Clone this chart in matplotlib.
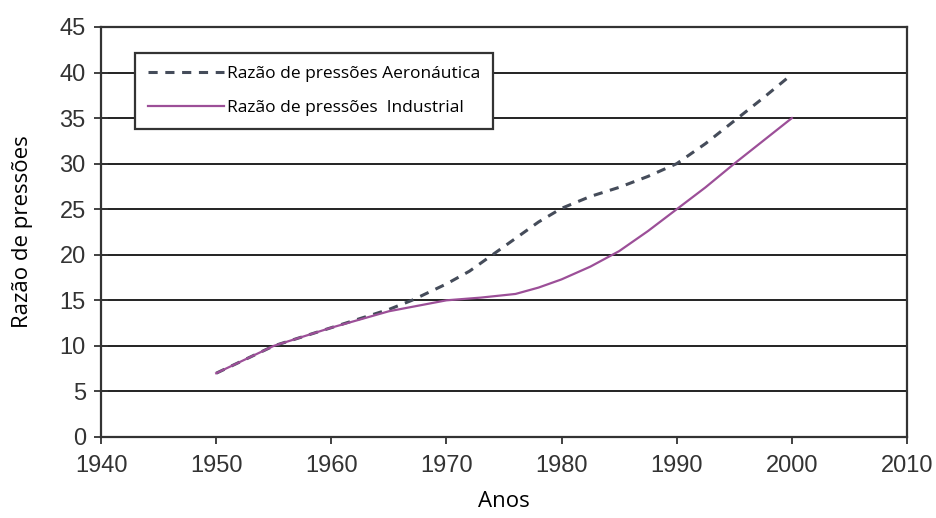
import numpy as np
import matplotlib.pyplot as plt

# values
anos = [1950, 1955, 1960, 1965, 1967, 1970, 1972, 1974, 1976, 1978, 1980,
        1982.5, 1985, 1987.5, 1990, 1992.5, 1995, 1997.5, 2000]
aeronautica = [7.0, 10.0, 12.0, 14.0, 15.0, 16.8, 18.2, 20.0, 21.8, 23.6, 25.1,
               26.4, 27.4, 28.6, 30.0, 32.2, 34.7, 37.2, 39.8]

anos_ind = [1950, 1955, 1960, 1965, 1970, 1973, 1976, 1978, 1980, 1982.5,
            1985, 1987.5, 1990, 1992.5, 1995, 1997.5, 2000]
industrial = [7.0, 10.0, 12.0, 13.8, 15.0, 15.3, 15.7, 16.4, 17.3, 18.7,
              20.4, 22.6, 25.0, 27.4, 30.0, 32.5, 35.0]

xticks = [1940, 1950, 1960, 1970, 1980, 1990, 2000, 2010]
yticks = [0, 5, 10, 15, 20, 25, 30, 35, 40, 45]

fig = plt.figure(figsize=(9.36, 5.18), dpi=100)
ax = fig.add_axes([0.108, 0.1564, 0.861, 0.7915])

for y in yticks[1:]:
    ax.axhline(y, color='#222222', lw=1.4, zorder=1)

ax.plot(anos, aeronautica, ls=(0, (3, 2.5)), color='#454c5a', lw=2.2,
        label='Razão de pressões Aeronáutica', zorder=3)
ax.plot(anos_ind, industrial, color='#9c4f98', lw=1.6,
        label='Razão de pressões  Industrial', zorder=3)

ax.set_xlim(1940, 2010)
ax.set_ylim(0, 45)
ax.set_xticks(xticks)
ax.set_yticks(yticks)
for s in ax.spines.values():
    s.set_color('#333333')
    s.set_linewidth(1.6)

ax.tick_params(axis='both', width=1.3, color='#333333',
               labelsize=17, labelcolor='#333333')
ax.tick_params(axis='y', direction='inout', length=10, pad=6)
ax.tick_params(axis='x', direction='out', length=5, pad=8)
for lab in ax.get_xticklabels() + ax.get_yticklabels():
    lab.set_family('Liberation Sans')

ax.set_xlabel('Anos', fontsize=16, family='Open Sans', labelpad=10)
ax.set_ylabel('Razão de pressões', fontsize=16, family='Open Sans', labelpad=19)

leg = ax.legend(loc='upper left', bbox_to_anchor=(0.042, 0.937), fancybox=False,
                framealpha=1, edgecolor='#333333', handlelength=4.4,
                handletextpad=0.15, borderpad=0.75, labelspacing=1.05,
                borderaxespad=0,
                prop={'family': 'Open Sans', 'size': 12.5})
leg.get_frame().set_linewidth(1.6)

fig.savefig('out.png', dpi=100)
